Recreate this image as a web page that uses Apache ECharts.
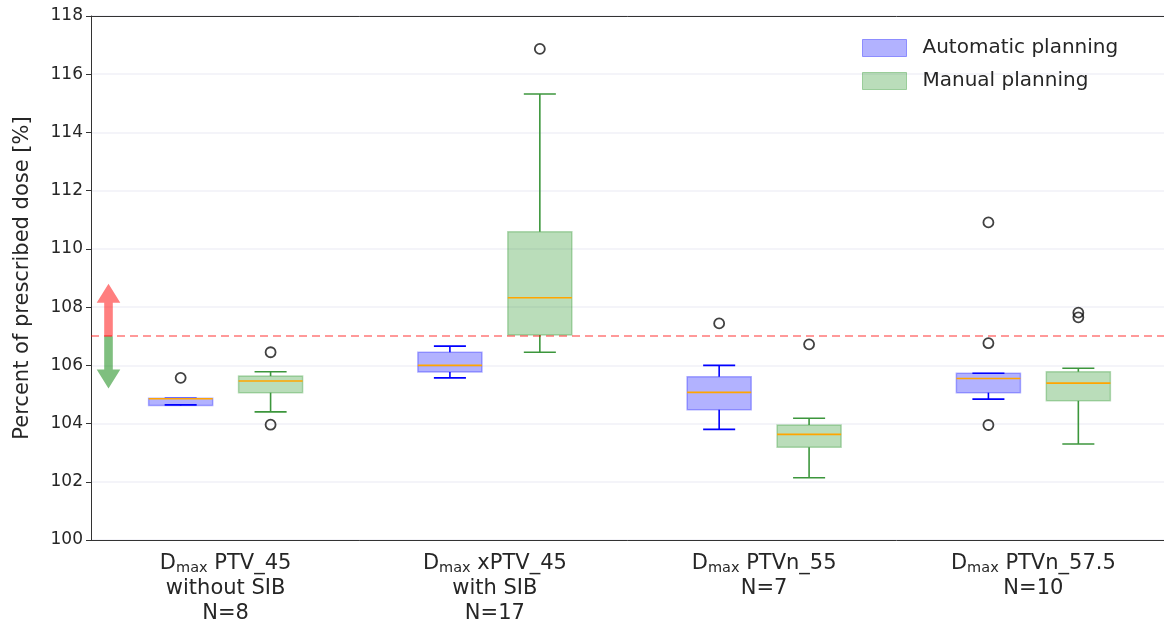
<!DOCTYPE html>
<html>
<head>
<meta charset="utf-8">
<script src="https://cdn.jsdelivr.net/npm/echarts@6/dist/echarts.min.js"></script>
<style>
html,body{margin:0;padding:0;background:#fff;}
#chart{width:1164px;height:628px;}
</style>
</head>
<body>
<div id="chart"></div>
<script>
// ---- data ----
const structureNames = ['PTV_45', 'xPTV_45', 'PTVn_55', 'PTVn_57.5'];
const subLabels = ['without SIB', 'with SIB', '', ''];
const sampleSizes = [8, 17, 7, 10];
const groupPositions = [1, 2, 3, 4];

// [lower whisker, Q1, median, Q3, upper whisker]
const autoStats = [
  [104.64, 104.62, 104.85, 104.87, 104.87],
  [105.57, 105.77, 106.00, 106.45, 106.66],
  [103.80, 104.47, 105.07, 105.61, 106.00],
  [104.84, 105.06, 105.55, 105.73, 105.73]
];
const manualStats = [
  [104.40, 105.06, 105.46, 105.63, 105.78],
  [106.45, 107.04, 108.32, 110.59, 115.32],
  [102.14, 103.19, 103.63, 103.95, 104.18],
  [103.30, 104.78, 105.39, 105.78, 105.90]
];
const autoOutliers = [[105.57], [], [107.44], [110.91, 106.76, 103.95]];
const manualOutliers = [[106.45, 103.96], [116.87], [106.72], [107.81, 107.65]];

const limitValue = 107;
const arrowX = 0.565;
const arrowUp = [107, 108.8];
const arrowDown = [107, 105.2];

const yTicks = {min: 100, max: 118, step: 2};
const seriesNames = ['Automatic planning', 'Manual planning'];

// ---- styles ----
const FONT = 'DejaVu Sans';
const BOX_OFFSET = 0.167;
const BOX_WIDTH = 0.238;
const styles = [
  {face: 'rgba(0,0,255,0.3)', edge: 'rgba(0,0,255,0.3)', line: '#0000ff'},
  {face: 'rgba(0,128,0,0.27)', edge: 'rgba(0,128,0,0.27)', line: '#3c963c'}
];
const MEDIAN = '#ffa500';

function boxRenderer(styleIdx, offset) {
  const st = styles[styleIdx];
  return function (params, api) {
    const pos = api.value(0) + offset;
    const low = api.value(1), q1 = api.value(2), med = api.value(3), q3 = api.value(4), high = api.value(5);
    const bw = api.size([BOX_WIDTH, 0])[0];
    const x = api.coord([pos, med])[0];
    const yLow = api.coord([pos, low])[1];
    const yQ1 = api.coord([pos, q1])[1];
    const yMed = api.coord([pos, med])[1];
    const yQ3 = api.coord([pos, q3])[1];
    const yHigh = api.coord([pos, high])[1];
    const lw = {stroke: st.line, lineWidth: 1.6};
    return {
      type: 'group',
      children: [
        {type: 'rect', shape: {x: x - bw / 2, y: yQ3, width: bw, height: yQ1 - yQ3},
          style: {fill: st.face, stroke: st.edge, lineWidth: 1.5}},
        {type: 'line', shape: {x1: x, y1: yQ3, x2: x, y2: yHigh}, style: lw},
        {type: 'line', shape: {x1: x, y1: yQ1, x2: x, y2: yLow}, style: lw},
        {type: 'line', shape: {x1: x - bw / 4, y1: yHigh, x2: x + bw / 4, y2: yHigh}, style: lw},
        {type: 'line', shape: {x1: x - bw / 4, y1: yLow, x2: x + bw / 4, y2: yLow}, style: lw},
        {type: 'line', shape: {x1: x - bw / 2, y1: yMed, x2: x + bw / 2, y2: yMed},
          style: {stroke: MEDIAN, lineWidth: 1.6}}
      ]
    };
  };
}

function boxData(stats) {
  return stats.map((s, i) => [groupPositions[i]].concat(s));
}
function outlierData(outs, offset) {
  const res = [];
  outs.forEach((arr, i) => arr.forEach(v => res.push([groupPositions[i] + offset, v])));
  return res;
}

function arrowRenderer(params, api) {
  const x0 = api.value(0);
  const p0 = api.coord([x0, api.value(1)]);
  const p1 = api.coord([x0, api.value(2)]);
  const dir = p1[1] < p0[1] ? -1 : 1;
  const headLen = 19, headHalf = 11.8, shaftHalf = 4.3;
  const x = p0[0];
  const yb = p1[1] - dir * headLen;
  const pts = [
    [x - shaftHalf, p0[1]], [x - shaftHalf, yb], [x - headHalf, yb], [x, p1[1]],
    [x + headHalf, yb], [x + shaftHalf, yb], [x + shaftHalf, p0[1]]
  ];
  return {type: 'polygon', shape: {points: pts}, style: {fill: api.visual('color')}};
}

const chart = echarts.init(document.getElementById('chart'), null, {renderer: 'canvas'});
const option = {
  backgroundColor: '#fff',
  animation: false,
  textStyle: {fontFamily: FONT},
  grid: {left: 91, top: 16, width: 1077, height: 524, show: false, containLabel: false, outerBoundsMode: 'none'},
  legend: {
    orient: 'vertical', left: 862, top: 38, padding: 0, itemGap: 13,
    itemWidth: 44, itemHeight: 17,
    textStyle: {fontFamily: FONT, fontSize: 20, color: '#262626', padding: [0, 0, 0, 11]},
    data: [
      {name: seriesNames[0], icon: 'rect', itemStyle: {color: styles[0].face, borderColor: 'rgba(0,0,255,0.35)', borderWidth: 1}},
      {name: seriesNames[1], icon: 'rect', itemStyle: {color: styles[1].face, borderColor: 'rgba(0,128,0,0.3)', borderWidth: 1}}
    ]
  },
  xAxis: [
    {
      type: 'category', data: structureNames, boundaryGap: true, gridIndex: 0, position: 'bottom',
      axisLine: {lineStyle: {color: '#333', width: 1}},
      axisTick: {alignWithLabel: true, length: 5, lineStyle: {color: '#333'}},
      splitLine: {show: false},
      axisLabel: {
        margin: 11, interval: 0,
        formatter: function (v, i) {
          let s = '{b|D}{s|max}{b| ' + structureNames[i] + '}';
          if (subLabels[i]) s += '\n{b|' + subLabels[i] + '}';
          s += '\n{b|N=' + sampleSizes[i] + '}';
          return s;
        },
        rich: {
          b: {fontFamily: FONT, fontSize: 21, lineHeight: 25, color: '#262626'},
          s: {fontFamily: FONT, fontSize: 14.5, lineHeight: 15, verticalAlign: 'bottom', color: '#262626'}
        }
      }
    },
    {
      type: 'value', min: 0.5, max: 4.5, gridIndex: 0, position: 'top',
      axisLine: {show: true, onZero: false, lineStyle: {color: '#333', width: 1}},
      axisTick: {show: false}, axisLabel: {show: false}, splitLine: {show: false}
    }
  ],
  yAxis: {
    type: 'value', min: yTicks.min, max: yTicks.max, interval: yTicks.step,
    name: 'Percent of prescribed dose [%]', nameLocation: 'middle', nameRotate: 90, nameGap: 58,
    nameTextStyle: {fontFamily: FONT, fontSize: 21, color: '#262626'},
    axisLine: {show: true, lineStyle: {color: '#333', width: 1}},
    axisTick: {show: true, length: 5, lineStyle: {color: '#333'}},
    axisLabel: {fontFamily: FONT, fontSize: 17, color: '#262626', margin: 8},
    splitLine: {show: true, lineStyle: {color: '#f0f1f7', width: 1.5}}
  },
  series: [
    {
      name: '__limit', type: 'custom', xAxisIndex: 1, yAxisIndex: 0,
      data: [
        {value: [arrowX, arrowUp[0], arrowUp[1]], itemStyle: {color: 'rgba(255,0,0,0.5)'}},
        {value: [arrowX, arrowDown[0], arrowDown[1]], itemStyle: {color: 'rgba(0,128,0,0.5)'}}
      ],
      renderItem: arrowRenderer,
      encode: {x: 0, y: [1, 2]},
      clip: false, silent: true, z: 3,
      markLine: {
        silent: true, symbol: 'none', label: {show: false},
        lineStyle: {color: 'rgba(255,0,0,0.4)', type: [8, 5], width: 2.2},
        data: [{yAxis: limitValue}]
      }
    },
    {
      name: seriesNames[0], type: 'custom', xAxisIndex: 1, yAxisIndex: 0,
      data: boxData(autoStats), renderItem: boxRenderer(0, -BOX_OFFSET),
      itemStyle: {color: styles[0].face}, encode: {x: 0, y: [1, 2, 3, 4, 5]}, z: 4
    },
    {
      name: seriesNames[1], type: 'custom', xAxisIndex: 1, yAxisIndex: 0,
      data: boxData(manualStats), renderItem: boxRenderer(1, BOX_OFFSET),
      itemStyle: {color: styles[1].face}, encode: {x: 0, y: [1, 2, 3, 4, 5]}, z: 4
    },
    {
      name: '__outAuto', type: 'scatter', xAxisIndex: 1, yAxisIndex: 0,
      data: outlierData(autoOutliers, -BOX_OFFSET), symbol: 'circle', symbolSize: 10,
      itemStyle: {color: 'rgba(255,255,255,0)', borderColor: '#111', borderWidth: 1.8}, z: 5
    },
    {
      name: '__outManual', type: 'scatter', xAxisIndex: 1, yAxisIndex: 0,
      data: outlierData(manualOutliers, BOX_OFFSET), symbol: 'circle', symbolSize: 10,
      itemStyle: {color: 'rgba(255,255,255,0)', borderColor: '#111', borderWidth: 1.8}, z: 5
    }
  ]
};
chart.setOption(option);
</script>
</body>
</html>
